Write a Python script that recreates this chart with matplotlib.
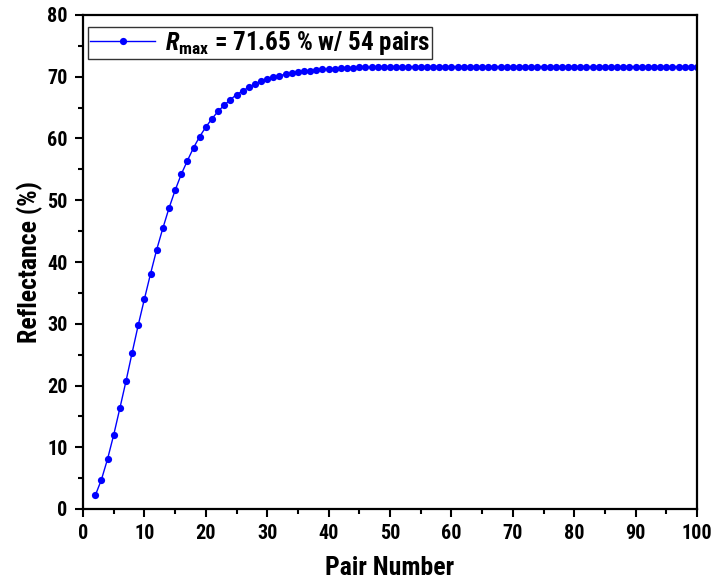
import matplotlib
matplotlib.use("Agg")
import matplotlib.pyplot as plt
from matplotlib.ticker import MultipleLocator

FONT = 'Roboto Condensed'
plt.rcParams['font.family'] = [FONT, 'Liberation Sans', 'DejaVu Sans']
plt.rcParams['mathtext.fontset'] = 'custom'
plt.rcParams['mathtext.rm'] = FONT + ':bold'
plt.rcParams['mathtext.it'] = FONT + ':bold:italic'
plt.rcParams['mathtext.bf'] = FONT + ':bold'

pairs = list(range(2, 101))
reflectance = [
    2.2, 4.75, 8.1, 12.0, 16.3, 20.7, 25.3, 29.8, 34.0, 38.1,
    42.0, 45.45, 48.7, 51.6, 54.2, 56.4, 58.5, 60.3, 61.85, 63.2,
    64.4, 65.4, 66.3, 67.1, 67.7, 68.3, 68.8, 69.3, 69.6, 69.9,
    70.2, 70.4, 70.6, 70.8, 70.9, 71.0, 71.1, 71.2, 71.25, 71.3,
    71.35, 71.4, 71.45, 71.5, 71.52, 71.55, 71.57, 71.59, 71.6, 71.61,
    71.62, 71.63, 71.64, 71.65, 71.65, 71.65, 71.65, 71.65, 71.65, 71.65,
    71.65, 71.65, 71.65, 71.65, 71.65, 71.65, 71.65, 71.65, 71.65, 71.65,
    71.65, 71.65, 71.65, 71.65, 71.65, 71.65, 71.65, 71.65, 71.65, 71.65,
    71.65, 71.65, 71.65, 71.65, 71.65, 71.65, 71.65, 71.65, 71.65, 71.65,
    71.65, 71.65, 71.65, 71.65, 71.65, 71.65, 71.65, 71.65, 71.65,
]
legend_label = r'$\mathit{R}_{\mathrm{max}}$' + ' = 71.65 % w/ 54 pairs'

fig = plt.figure(figsize=(7.15, 5.85), dpi=100)
ax = fig.add_axes([83/715, 76/585, 614/715, 494/585])

ax.plot(pairs, reflectance, color='#0000FF', lw=1.0, marker='o', ms=5.2,
        markeredgewidth=0, label=legend_label)

ax.set_xlim(0, 100)
ax.set_ylim(0, 80)
ax.xaxis.set_major_locator(MultipleLocator(10))
ax.xaxis.set_minor_locator(MultipleLocator(5))
ax.yaxis.set_major_locator(MultipleLocator(10))
ax.yaxis.set_minor_locator(MultipleLocator(5))
ax.tick_params(which='major', direction='out', length=6, width=1.5,
               labelsize=14.5, top=False, right=False, pad=5)
ax.tick_params(which='minor', direction='out', length=3.5, width=1.5,
               top=False, right=False)
for lab in ax.get_xticklabels() + ax.get_yticklabels():
    lab.set_fontweight('bold')
for s in ax.spines.values():
    s.set_linewidth(1.6)

ax.set_xlabel('Pair Number', fontsize=18.5, fontweight='bold', labelpad=9)
ax.set_ylabel('Reflectance (%)', fontsize=18.5, fontweight='bold', labelpad=3)

leg = ax.legend(loc='upper left', bbox_to_anchor=(0.0, 0.986), frameon=True,
                fancybox=False, edgecolor='#333333', framealpha=1,
                prop={'size': 18, 'weight': 'bold'}, handlelength=2.6,
                borderpad=0.08, handletextpad=0.4, borderaxespad=0.2)
leg.get_frame().set_linewidth(1.0)

fig.savefig('out.png', dpi=100)
